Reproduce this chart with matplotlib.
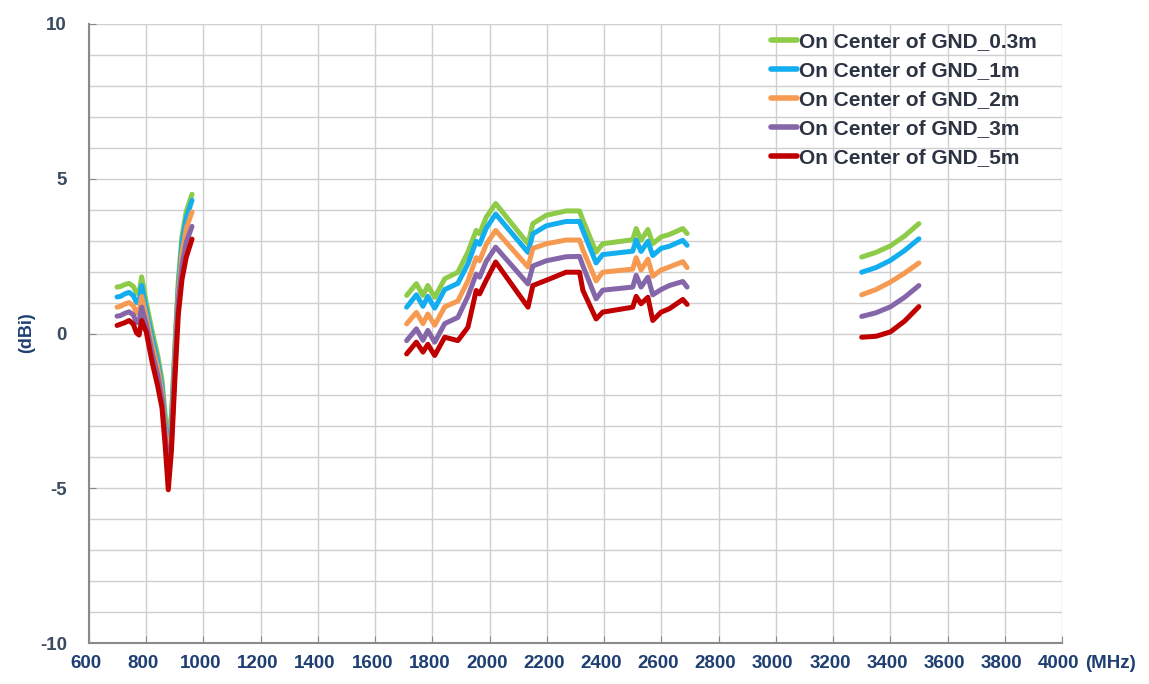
import matplotlib
matplotlib.use("Agg")
import matplotlib.pyplot as plt
import matplotlib.transforms as mtransforms
from matplotlib.ticker import MultipleLocator

plt.rcParams["font.family"] = ["Liberation Sans", "DejaVu Sans"]
plt.rcParams["font.weight"] = "bold"
plt.rcParams["axes.unicode_minus"] = False

series_labels = [
    "On Center of GND_0.3m",
    "On Center of GND_1m",
    "On Center of GND_2m",
    "On Center of GND_3m",
    "On Center of GND_5m",
]
series_colors = ["#8DCB48", "#12AEEF", "#F59A50", "#8566A8", "#C00000"]

# Low band (MHz)
low_freq = [698, 710, 725, 740, 755, 766, 775, 784, 800, 820, 840, 855, 866, 877,
            888, 900, 912, 925, 940, 960]
low_03m = [1.50, 1.52, 1.58, 1.62, 1.52, 1.30, 1.32, 1.83, 1.00, 0.10, -0.70, -1.50,
           -2.60, -3.60, -2.60, -0.40, 1.70, 3.15, 3.95, 4.50]
low_1m = [1.18, 1.20, 1.28, 1.33, 1.22, 1.00, 1.03, 1.55, 0.78, -0.10, -0.90, -1.70,
          -2.90, -3.90, -2.90, -0.60, 1.50, 2.95, 3.75, 4.30]
low_2m = [0.85, 0.88, 0.95, 1.00, 0.90, 0.66, 0.70, 1.20, 0.55, -0.35, -1.10, -1.90,
          -3.10, -4.20, -3.20, -0.80, 1.25, 2.60, 3.40, 3.93]
low_3m = [0.56, 0.58, 0.65, 0.70, 0.60, 0.35, 0.38, 0.85, 0.30, -0.60, -1.35, -2.10,
          -3.30, -4.50, -3.50, -1.10, 1.00, 2.20, 2.95, 3.46]
low_5m = [0.26, 0.30, 0.35, 0.42, 0.30, 0.02, -0.05, 0.42, 0.05, -0.90, -1.70, -2.40,
          -3.60, -5.05, -3.80, -1.50, 0.60, 1.75, 2.47, 3.05]

# Mid band (MHz)
mid_freq = [1710, 1744, 1767, 1784, 1808, 1843, 1889, 1924, 1953, 1965, 1988, 2021,
            2134, 2151, 2198, 2267, 2314, 2326, 2372, 2395, 2500, 2512, 2529, 2553,
            2570, 2599, 2628, 2675, 2690]
mid_03m = [1.23, 1.61, 1.23, 1.55, 1.17, 1.77, 1.98, 2.63, 3.33, 3.22, 3.76, 4.20,
           2.90, 3.55, 3.82, 3.96, 3.96, 3.66, 2.63, 2.90, 3.03, 3.39, 3.01, 3.36,
           2.90, 3.12, 3.20, 3.39, 3.23]
mid_1m = [0.85, 1.25, 0.88, 1.20, 0.82, 1.42, 1.62, 2.25, 2.98, 2.88, 3.40, 3.86,
          2.62, 3.22, 3.48, 3.62, 3.62, 3.32, 2.28, 2.55, 2.66, 3.02, 2.65, 2.98,
          2.52, 2.75, 2.82, 3.01, 2.85]
mid_2m = [0.31, 0.68, 0.32, 0.63, 0.27, 0.86, 1.05, 1.70, 2.45, 2.35, 2.88, 3.33,
          2.15, 2.75, 2.90, 3.02, 3.02, 2.70, 1.70, 1.98, 2.08, 2.45, 2.05, 2.40,
          1.85, 2.05, 2.15, 2.32, 2.13]
mid_3m = [-0.23, 0.15, -0.22, 0.10, -0.28, 0.32, 0.52, 1.20, 1.92, 1.82, 2.33, 2.79,
          1.60, 2.18, 2.35, 2.48, 2.49, 2.18, 1.12, 1.40, 1.50, 1.88, 1.50, 1.82,
          1.25, 1.42, 1.55, 1.68, 1.50]
mid_5m = [-0.66, -0.28, -0.60, -0.35, -0.71, -0.12, -0.23, 0.20, 1.39, 1.28, 1.72, 2.31,
          0.85, 1.55, 1.72, 1.98, 1.98, 1.39, 0.47, 0.69, 0.85, 1.20, 0.96, 1.17,
          0.42, 0.69, 0.80, 1.10, 0.94]

# High band (MHz)
high_freq = [3300, 3350, 3400, 3450, 3500]
high_03m = [2.47, 2.62, 2.83, 3.15, 3.55]
high_1m = [1.98, 2.13, 2.36, 2.68, 3.06]
high_2m = [1.25, 1.42, 1.66, 1.95, 2.28]
high_3m = [0.55, 0.67, 0.86, 1.17, 1.55]
high_5m = [-0.12, -0.09, 0.05, 0.40, 0.87]

bands = [
    (low_freq, [low_03m, low_1m, low_2m, low_3m, low_5m]),
    (mid_freq, [mid_03m, mid_1m, mid_2m, mid_3m, mid_5m]),
    (high_freq, [high_03m, high_1m, high_2m, high_3m, high_5m]),
]

x_ticks = list(range(600, 4001, 200))
y_ticks = [10, 5, 0, -5, -10]

fig = plt.figure(figsize=(11.49, 6.84), dpi=100)
ax = fig.add_axes([89 / 1149, 1 - 643 / 684, (1062 - 89) / 1149, (643 - 24) / 684])

for b, (freq, values) in enumerate(bands):
    for i, vals in enumerate(values):
        ax.plot(freq, vals, color=series_colors[i], lw=3.6,
                solid_capstyle="round", solid_joinstyle="round",
                label=series_labels[i] if b == 0 else None, zorder=3 + i)

ax.set_xlim(600, 4000)
ax.set_ylim(-10, 10)
ax.set_xticks(x_ticks)
ax.set_yticks(y_ticks)
ax.yaxis.set_minor_locator(MultipleLocator(1))
ax.grid(True, which="both", color="#cfcfcf", lw=1.0, zorder=0)
ax.set_axisbelow(True)

for side in ("top", "right"):
    ax.spines[side].set_visible(False)
for side in ("left", "bottom"):
    ax.spines[side].set_color("#8a8a8a")
    ax.spines[side].set_linewidth(1.5)

ax.tick_params(axis="x", direction="in", length=5, color="#8a8a8a", pad=9,
               labelsize=13.5, labelcolor="#1F3F73")
ax.tick_params(axis="y", which="major", direction="in", length=5, color="#8a8a8a",
               pad=16, labelsize=13.5, labelcolor="#3A4A60")
ax.tick_params(axis="y", which="minor", length=0)

# nudge the frequency labels slightly to the left of their ticks
shift = mtransforms.ScaledTranslation(-3 / 100, 0, fig.dpi_scale_trans)
for lab in ax.get_xticklabels():
    lab.set_fontweight("bold")
    lab.set_transform(lab.get_transform() + shift)
for lab in ax.get_yticklabels():
    lab.set_fontweight("bold")

fig.text(1085 / 1149, 1 - 663 / 684, "(MHz)", ha="left", va="center",
         fontsize=13.5, fontweight="bold", color="#1F3F73")
fig.text(27 / 1149, 1 - 333 / 684, "(dBi)", ha="center", va="center",
         rotation=90, fontsize=13, fontweight="bold", color="#1F3F73")

leg = ax.legend(loc="upper left", bbox_to_anchor=((771 - 89) / 973, 1 - (32 - 24) / 619),
                frameon=False, fontsize=15, handlelength=1.25, handletextpad=0.1,
                labelspacing=0.48, borderaxespad=0, borderpad=0)
for t in leg.get_texts():
    t.set_color("#2C3444")
    t.set_fontweight("bold")
for h in leg.get_lines():
    h.set_linewidth(4)

fig.savefig("out.png", dpi=100, facecolor="white")
